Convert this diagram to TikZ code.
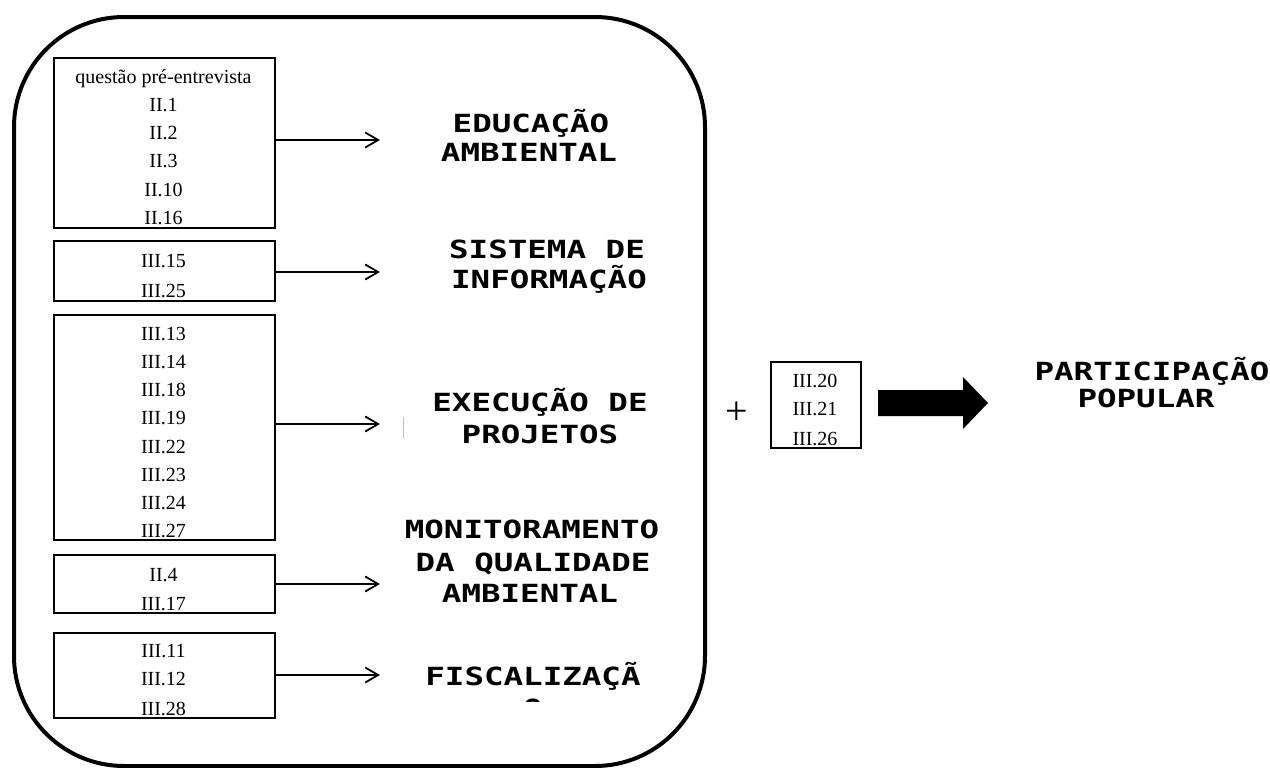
\documentclass[tikz,border=0pt]{standalone}
\usepackage{fontspec}
\setmainfont{Liberation Serif}
\newfontfamily\lblfont[FakeStretch=1.3]{DejaVu Sans Mono}
\usetikzlibrary{arrows.meta}
\tikzset{
  qbox/.style={draw, line width=1pt, anchor=north west, inner sep=0pt},
  qtxt/.style={anchor=base, inner sep=0pt, font=\fontsize{10}{12}\selectfont},
  lbl/.style={anchor=base, inner sep=0pt, font=\lblfont\bfseries\fontsize{12.5}{14}\selectfont},
  arr/.style={line width=0.9pt, -{Straight Barb[length=6.5pt,width=7.5pt,line width=0.9pt]}},
}
\begin{document}
\begin{tikzpicture}[x=0.5pt,y=-0.5pt]
\useasboundingbox (0,0) rectangle (1270,767);
% outer frame
\node[draw, line width=2pt, rounded corners=55pt, anchor=north west, inner sep=0pt,
      minimum width=345.5pt, minimum height=374.5pt] (frame) at (12,15) {};
% question boxes
\node[qbox, minimum width=110.5pt, minimum height=85pt] (b1) at (53,57) {};
\node[qbox, minimum width=110.5pt, minimum height=30pt] (b2) at (53,240) {};
\node[qbox, minimum width=110.5pt, minimum height=112.5pt] (b3) at (53,314) {};
\node[qbox, minimum width=110.5pt, minimum height=29pt] (b4) at (53,554) {};
\node[qbox, minimum width=110.5pt, minimum height=42.5pt] (b5) at (53,632) {};
\node[qbox, minimum width=45pt, minimum height=43pt] (b6) at (770,361) {};
% box texts
\foreach \t/\y [count=\i] in {questão pré-entrevista/83, II.1/111, II.2/139, II.3/167, II.10/196, II.16/224}
  \node[qtxt] (ta\i) at (163.5,\y) {\t};
\foreach \t/\y [count=\i] in {III.15/267, III.25/297}
  \node[qtxt] (tb\i) at (163.5,\y) {\t};
\foreach \t/\y [count=\i] in {III.13/340, III.14/368, III.18/396, III.19/424, III.22/453, III.23/481, III.24/509, III.27/537}
  \node[qtxt] (tc\i) at (163.5,\y) {\t};
\foreach \t/\y [count=\i] in {II.4/581, III.17/610}
  \node[qtxt] (td\i) at (163.5,\y) {\t};
\foreach \t/\y [count=\i] in {III.11/657, III.12/685, III.28/715}
  \node[qtxt] (te\i) at (163.5,\y) {\t};
\foreach \t/\y [count=\i] in {III.20/387, III.21/415, III.26/445}
  \node[qtxt] (tf\i) at (815,\y) {\t};
% arrow tips
\coordinate (p1) at (380,140);
\coordinate (p2) at (380,272);
\coordinate (p3) at (380,424);
\coordinate (p4) at (380,584);
\coordinate (p5) at (380,675);
\draw[arr] (b1.east |- p1) -- (p1);
\draw[arr] (b2.east |- p2) -- (p2);
\draw[arr] (b3.east |- p3) -- (p3);
\draw[arr] (b4.east |- p4) -- (p4);
\draw[arr] (b5.east |- p5) -- (p5);
% faint mark
\draw[black!25, line width=0.5pt] (403,417) -- (403,438);
% labels
\node[lbl] (l1a) at (531,132) {EDUCAÇÃO};
\node[lbl] (l1b) at (529,161) {AMBIENTAL};
\node[lbl] (l2a) at (547,258) {SISTEMA DE};
\node[lbl] (l2b) at (549,288) {INFORMAÇÃO};
\node[lbl] (l3a) at (540,411) {EXECUÇÃO DE};
\node[lbl] (l3b) at (540,443) {PROJETOS};
\node[lbl] (l4a) at (532,538) {MONITORAMENTO};
\node[lbl] (l4b) at (533,571) {DA QUALIDADE};
\node[lbl] (l4c) at (530,602) {AMBIENTAL};
\begin{scope}
  \clip (380,640) rectangle (700,701);
  \node[lbl] (l5a) at (533,685) {FISCALIZAÇÃ};
  \node[lbl] (l5b) at (533,717) {O};
\end{scope}
% plus sign
\node[inner sep=0pt, font=\fontsize{20}{22}\selectfont] (plus) at (737,413) {+};
% big arrow
\fill (878,390) -- (963,390) -- (963,377) -- (988,403) -- (963,429) -- (963,416) -- (878,416) -- cycle;
% result
\node[lbl] (r1) at (1152,380) {PARTICIPAÇÃO};
\node[lbl] (r2) at (1146,407) {POPULAR};
\end{tikzpicture}
\end{document}
